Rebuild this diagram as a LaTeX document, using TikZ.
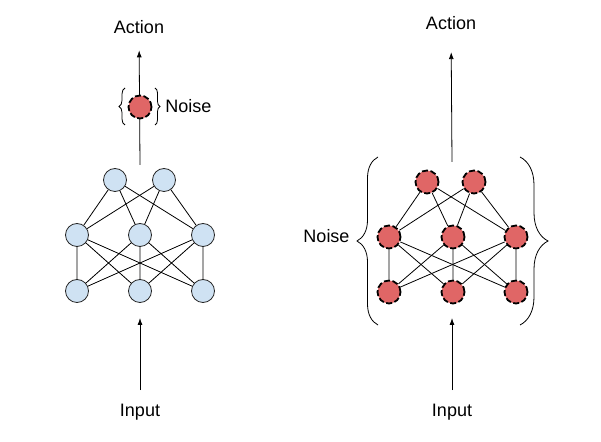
\documentclass[tikz,border=0pt]{standalone}
\usepackage{fontspec}
\setmainfont{Liberation Sans}
\usepackage{tikz}
\usetikzlibrary{arrows.meta}
\usetikzlibrary{decorations.pathreplacing}
\usepackage{xcolor}

\definecolor{cellblue}{HTML}{CFE2F3}
\definecolor{cellred}{HTML}{E06666}

\begin{document}
\begin{tikzpicture}[x=1pt,y=1pt,
    every node/.style={font=\fontsize{18}{20}\selectfont},
    cell/.style={circle,draw=black!85,line width=.8pt,fill=cellblue,minimum size=23pt,inner sep=0pt},
    noisy/.style={circle,draw=black,line width=1.8pt,dash pattern=on 6pt off 2.5pt,fill=cellred,minimum size=23pt,inner sep=0pt},
    link/.style={line width=.8pt},
    flow/.style={line width=.8pt,-{Latex[length=7pt,width=5pt]}},
    curly/.style={line width=.8pt,decorate,decoration={brace,amplitude=#1}}]
  \useasboundingbox (0,0) rectangle (601,441);
      \begin{scope}[shift={(0,0)}]
        \node(A) at (139,413.5) {Action};
        \node(I) at (140,28.6) {Input};
        \coordinate(h) at (140,276);
        \coordinate(b) at (140,123);
        \draw[flow,shorten >=12.7pt](h)--(A);
        \draw[flow,shorten <=10.7pt](I)--(b);
        \node[noisy](R) at (140,334) {};
        \node(L) at (188.5,335) {Noise};
        \draw[curly=6](125,316)--(125,353);
        \draw[curly=5](155,353)--(155,316);
        \node[cell](T1) at (115,261) {};
        \node[cell](T2) at (164,261) {};
        \node[cell](M1) at (77,206) {};
        \node[cell](M2) at (140,206) {};
        \node[cell](M3) at (203,206) {};
        \node[cell](B1) at (77,150) {};
        \node[cell](B2) at (140,150) {};
        \node[cell](B3) at (203,150) {};
        \draw[link](T1)--(M1) (T1)--(M2) (T1)--(M3);
        \draw[link](T2)--(M1) (T2)--(M2) (T2)--(M3);
        \draw[link](M1)--(B1) (M1)--(B2) (M1)--(B3);
        \draw[link](M2)--(B1) (M2)--(B2) (M2)--(B3);
        \draw[link](M3)--(B1) (M3)--(B2) (M3)--(B3);
      \end{scope}
      %%
      \begin{scope}[shift={(312,-2)}]
        \node(A) at (139,420) {Action};
        \node(I) at (140,30.6) {Input};
        \coordinate(h) at (140,281);
        \coordinate(b) at (140,125);
        \draw[flow,shorten >=19pt](h)--(A);
        \draw[flow,shorten <=10.7pt](I)--(b);
        \node(L) at (14.5,206.5) {Noise};
        \draw[curly=21](66,118)--(66,286);
        \draw[curly=28](208,286)--(208,118);
        \node[noisy](T1) at (115,261) {};
        \node[noisy](T2) at (162,261) {};
        \node[noisy](M1) at (77,206) {};
        \node[noisy](M2) at (141,206) {};
        \node[noisy](M3) at (204,206) {};
        \node[noisy](B1) at (77,151) {};
        \node[noisy](B2) at (141,151) {};
        \node[noisy](B3) at (204,151) {};
        \draw[link](T1)--(M1) (T1)--(M2) (T1)--(M3);
        \draw[link](T2)--(M1) (T2)--(M2) (T2)--(M3);
        \draw[link](M1)--(B1) (M1)--(B2) (M1)--(B3);
        \draw[link](M2)--(B1) (M2)--(B2) (M2)--(B3);
        \draw[link](M3)--(B1) (M3)--(B2) (M3)--(B3);
      \end{scope}
    \end{tikzpicture}
\end{document}
